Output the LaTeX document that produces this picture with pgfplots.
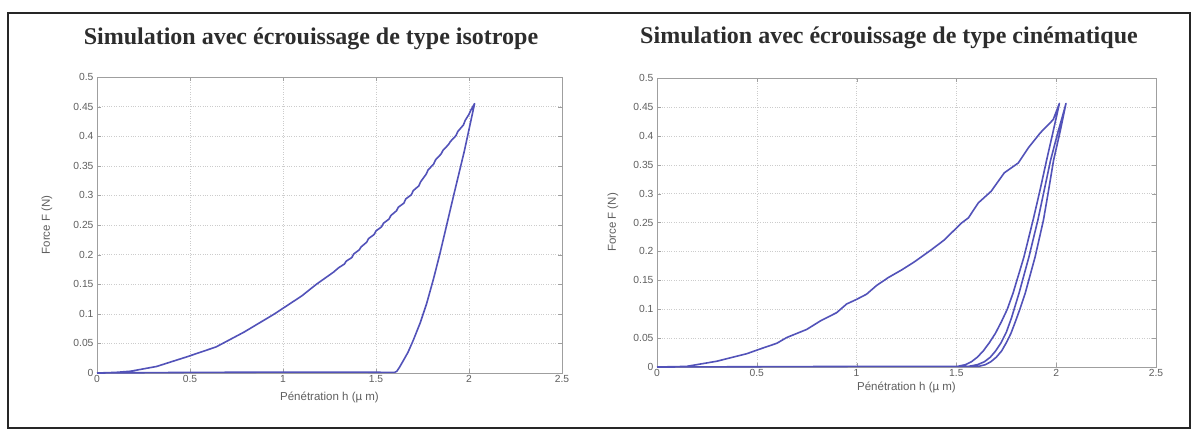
\documentclass[border=0pt]{standalone}
\usepackage{pgfplots}
\pgfplotsset{compat=1.18}
\usepackage{fontspec}
\setmainfont{Liberation Sans}
\newfontfamily\titlefont{Liberation Serif}
\definecolor{curve}{RGB}{82,82,185}
\definecolor{txt}{RGB}{95,95,95}
\definecolor{ttl}{RGB}{45,45,45}

\pgfplotstableread{
h F
0 0
0.10 0.001
0.18 0.003
0.32 0.011
0.48 0.027
0.64 0.044
0.79 0.069
0.95 0.099
1.10 0.130
1.18 0.150
1.27 0.170
1.30 0.178
1.33 0.184
1.34 0.189
1.37 0.195
1.38 0.201
1.41 0.208
1.42 0.213
1.45 0.221
1.46 0.227
1.49 0.234
1.50 0.240
1.53 0.247
1.54 0.253
1.57 0.260
1.58 0.266
1.61 0.274
1.62 0.280
1.65 0.287
1.66 0.294
1.69 0.301
1.70 0.308
1.73 0.316
1.74 0.323
1.77 0.336
1.78 0.343
1.81 0.353
1.82 0.360
1.85 0.370
1.86 0.376
1.89 0.386
1.90 0.391
1.93 0.401
1.94 0.408
1.97 0.419
1.98 0.427
2.00 0.437
2.01 0.444
2.03 0.455
1.975 0.375
1.916 0.298
1.880 0.250
1.844 0.202
1.810 0.160
1.772 0.117
1.738 0.085
1.700 0.055
1.672 0.035
1.647 0.021
1.627 0.010
1.612 0.003
1.600 0.001
1.40 0.0015
1.00 0.0015
0.50 0.001
0 0
}\isotable

\pgfplotstableread{
h F
0 0
0.147 0.001
0.30 0.010
0.38 0.017
0.45 0.023
0.515 0.031
0.60 0.041
0.65 0.051
0.75 0.065
0.82 0.080
0.90 0.094
0.95 0.109
1.00 0.117
1.05 0.126
1.10 0.141
1.16 0.155
1.226 0.168
1.29 0.182
1.375 0.203
1.44 0.220
1.525 0.249
1.56 0.258
1.61 0.284
1.674 0.304
1.74 0.336
1.81 0.353
1.86 0.379
1.92 0.405
1.985 0.428
2.016 0.456
1.985 0.408
1.952 0.358
1.919 0.306
1.884 0.254
1.838 0.190
1.784 0.128
1.755 0.100
1.725 0.078
1.695 0.058
1.665 0.042
1.635 0.028
1.605 0.017
1.575 0.009
1.545 0.004
1.505 0.001
1.560 0.001
1.605 0.004
1.640 0.009
1.670 0.017
1.697 0.028
1.724 0.042
1.750 0.060
1.776 0.085
1.814 0.128
1.863 0.190
1.908 0.254
1.940 0.306
1.972 0.358
2.010 0.408
2.030 0.432
2.049 0.456
2.020 0.408
1.987 0.358
1.962 0.306
1.936 0.254
1.894 0.190
1.845 0.128
1.818 0.100
1.795 0.078
1.773 0.058
1.750 0.042
1.727 0.028
1.700 0.017
1.672 0.009
1.645 0.004
1.610 0.001
1.500 0.001
1.00 0.001
0.50 0.0005
0 0
}\cinetable

\pgfplotsset{
  mystyle/.style={
    anchor=south west, scale only axis,
    xmin=0, xmax=2.5, ymin=0, ymax=0.5,
    clip=false,
    xtick={0,0.5,1,1.5,2,2.5},
    xticklabels={0,0.5,1,1.5,2,2.5},
    ytick={0,0.05,0.1,0.15,0.2,0.25,0.3,0.35,0.4,0.45,0.5},
    yticklabels={0,0.05,0.1,0.15,0.2,0.25,0.3,0.35,0.4,0.45,0.5},
    grid=major,
    grid style={dotted, gray!40},
    tick align=inside,
    major tick length=4pt,
    axis line style={gray!75},
    tick style={gray!75},
    ticklabel style={font=\fontsize{10.3}{12}\selectfont, text=txt},
    xticklabel style={yshift=1pt},
    label style={font=\fontsize{11.5}{13}\selectfont, text=txt},
    xlabel={Pénétration h (µ m)},
    ylabel={Force F (N)},
    ylabel style={at={(axis description cs:0,0.5)}, anchor=center},
    xlabel style={at={(axis description cs:0.5,0)}, anchor=center},
  }
}

\begin{document}
\begin{tikzpicture}[x=1pt,y=1pt]
\useasboundingbox (0,0) rectangle (1192,432);
\fill[white] (0,0) rectangle (1192,432);
\draw[line width=1.6pt, black!85] (8,4) rectangle (1190,419);

\node[font=\titlefont\bfseries\fontsize{24}{28}\selectfont, text=ttl] at (311,393) {Simulation avec écrouissage de type isotrope};
\node[font=\titlefont\bfseries\fontsize{24}{28}\selectfont, text=ttl] at (889,394) {Simulation avec écrouissage de type cinématique};

\begin{axis}[mystyle, at={(97pt,59pt)}, width=465pt, height=296pt,
  ylabel style={yshift=50pt}, xlabel style={yshift=-24pt}]
\addplot[curve, line width=1.6pt, line join=round] table[x=h,y=F] {\isotable};
\end{axis}

\begin{axis}[mystyle, at={(657pt,65pt)}, width=499pt, height=289pt,
  ylabel style={yshift=44pt}, xlabel style={yshift=-20pt}]
\addplot[curve, line width=1.6pt, line join=round] table[x=h,y=F] {\cinetable};
\end{axis}
\end{tikzpicture}
\end{document}
